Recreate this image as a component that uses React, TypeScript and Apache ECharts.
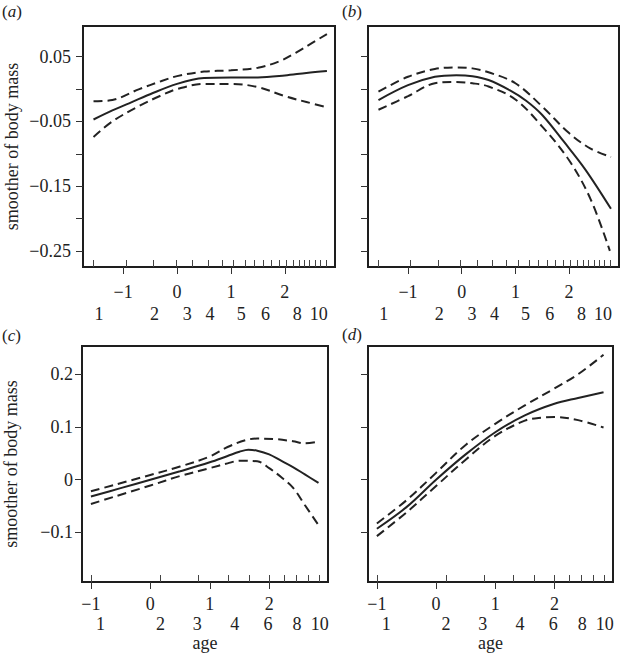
import React, { useEffect, useRef } from "react";
import * as echarts from "echarts";

// ---------- data ----------
const mainTicks = [-1, 0, 1, 2];

const topAgeLabels = ["1", "2", "3", "4", "5", "6", "8", "10"];
const topAgePos = [-1.45, -0.42, 0.19, 0.61, 1.19, 1.64, 2.23, 2.63];
const bottomAgeLabels = ["1", "2", "3", "4", "6", "8", "10"];
const bottomAgePos = [-0.84, 0.17, 0.79, 1.42, 1.98, 2.47, 2.85];

const topRug = [-1.55, -0.95, -0.44, -0.02, 0.29, 0.57, 0.83, 1.05, 1.26, 1.43, 1.59, 1.75, 1.9, 2.03, 2.15, 2.26, 2.36, 2.46, 2.56, 2.66, 2.76];
const bottomRug = [-0.99, 0.17, 0.81, 1.31, 1.66, 2.0, 2.25, 2.45, 2.65, 2.84];

const topYTicks = [0.05, 0, -0.05, -0.1, -0.15, -0.2, -0.25];
const topYLabels = [0.05, -0.05, -0.15, -0.25];
const bottomYTicks = [0.2, 0.1, 0, -0.1];
const bottomYLabels = [0.2, 0.1, 0, -0.1];

// panel (a)
const aFit = [[-1.55, -0.047], [-1.2, -0.033], [-0.95, -0.024], [-0.5, -0.008], [0, 0.008], [0.5, 0.017], [1.0, 0.018], [1.5, 0.018], [2.0, 0.021], [2.4, 0.025], [2.78, 0.028]];
const aUpper = [[-1.55, -0.019], [-1.2, -0.017], [-0.7, 0.0], [-0.3, 0.012], [0, 0.02], [0.5, 0.027], [1.0, 0.029], [1.5, 0.033], [1.9, 0.043], [2.2, 0.056], [2.5, 0.071], [2.78, 0.085]];
const aLower = [[-1.55, -0.074], [-1.2, -0.05], [-0.7, -0.026], [-0.3, -0.01], [0, 0.0], [0.5, 0.008], [1.0, 0.008], [1.5, 0.003], [2.0, -0.011], [2.4, -0.02], [2.78, -0.028]];

// panel (b)
const bFit = [[-1.55, -0.017], [-1.0, 0.006], [-0.5, 0.019], [-0.1, 0.0215], [0.2, 0.02], [0.5, 0.014], [0.9, -0.002], [1.2, -0.018], [1.5, -0.04], [1.9, -0.081], [2.3, -0.124], [2.78, -0.185]];
const bUpper = [[-1.55, -0.004], [-1.0, 0.019], [-0.5, 0.031], [-0.1, 0.0335], [0.2, 0.032], [0.5, 0.026], [1.0, 0.009], [1.5, -0.027], [2.0, -0.068], [2.4, -0.092], [2.78, -0.105]];
const bLower = [[-1.55, -0.032], [-1.0, -0.011], [-0.5, 0.009], [-0.1, 0.011], [0.2, 0.009], [0.5, 0.004], [1.0, -0.016], [1.5, -0.058], [2.0, -0.11], [2.4, -0.17], [2.76, -0.25]];

// panel (c)
const cFit = [[-1.0, -0.032], [-0.5, -0.016], [0, 0.0], [0.5, 0.016], [1.0, 0.033], [1.3, 0.045], [1.5, 0.053], [1.65, 0.057], [1.8, 0.055], [2.0, 0.048], [2.2, 0.036], [2.4, 0.024], [2.6, 0.01], [2.83, -0.006]];
const cUpper = [[-1.0, -0.022], [0, 0.009], [0.5, 0.025], [1.0, 0.044], [1.3, 0.062], [1.6, 0.075], [1.8, 0.078], [2.1, 0.077], [2.4, 0.073], [2.6, 0.069], [2.83, 0.072]];
const cLower = [[-1.0, -0.046], [0, -0.011], [0.5, 0.007], [1.0, 0.022], [1.3, 0.031], [1.5, 0.036], [1.8, 0.035], [2.0, 0.022], [2.2, 0.005], [2.4, -0.015], [2.6, -0.048], [2.83, -0.086]];

// panel (d)
const dFit = [[-1.0, -0.093], [-0.5, -0.052], [0, 0.0], [0.5, 0.048], [1.0, 0.09], [1.5, 0.122], [2.0, 0.144], [2.4, 0.155], [2.83, 0.166]];
const dUpper = [[-1.0, -0.083], [-0.5, -0.039], [0, 0.013], [0.5, 0.066], [1.0, 0.106], [1.5, 0.141], [2.0, 0.173], [2.4, 0.2], [2.83, 0.237]];
const dLower = [[-1.0, -0.107], [-0.5, -0.062], [0, -0.012], [0.5, 0.038], [1.0, 0.083], [1.5, 0.112], [1.8, 0.118], [2.0, 0.119], [2.4, 0.113], [2.83, 0.099]];

const panelLetters = ["a", "b", "c", "d"];

// ---------- styles ----------
const FONT = "Liberation Serif";
const INK = "#222";
const FS = 18;

type Panel = {
  rect: { left: number; top: number; width: number; height: number };
  xRange: [number, number];
  yRange: [number, number];
  yTicks: number[];
  yLabels: number[] | null;
  yLabelMargin: number;
  rug: number[];
  ageLabels: string[];
  agePos: number[];
  row1Margin: number;
  row2Margin: number;
  showYName: boolean;
  showXName: boolean;
  curves: { fit: number[][]; upper: number[][]; lower: number[][] };
  letterPos: { left: number; top: number };
};

const fmt = (v: number) => {
  const r = Math.round(v * 1000) / 1000;
  return String(r).replace("-", "\u2212");
};

const TOP_X: [number, number] = [-1.745, 2.93];
const TOP_Y: [number, number] = [-0.275, 0.0975];
const BOT_X: [number, number] = [-1.15, 2.99];
const BOT_Y: [number, number] = [-0.194, 0.2536];

const panels: Panel[] = [
  {
    rect: { left: 83, top: 26, width: 252, height: 241 },
    xRange: TOP_X, yRange: TOP_Y, yTicks: topYTicks, yLabels: topYLabels, yLabelMargin: 12,
    rug: topRug, ageLabels: topAgeLabels, agePos: topAgePos, row1Margin: 16, row2Margin: 38,
    showYName: true, showXName: false,
    curves: { fit: aFit, upper: aUpper, lower: aLower },
    letterPos: { left: 2, top: 3 },
  },
  {
    rect: { left: 368, top: 26, width: 251, height: 241 },
    xRange: TOP_X, yRange: TOP_Y, yTicks: topYTicks, yLabels: null, yLabelMargin: 12,
    rug: topRug, ageLabels: topAgeLabels, agePos: topAgePos, row1Margin: 16, row2Margin: 38,
    showYName: false, showXName: false,
    curves: { fit: bFit, upper: bUpper, lower: bLower },
    letterPos: { left: 342, top: 3 },
  },
  {
    rect: { left: 82, top: 346, width: 246, height: 236 },
    xRange: BOT_X, yRange: BOT_Y, yTicks: bottomYTicks, yLabels: bottomYLabels, yLabelMargin: 9,
    rug: bottomRug, ageLabels: bottomAgeLabels, agePos: bottomAgePos, row1Margin: 13, row2Margin: 33,
    showYName: true, showXName: true,
    curves: { fit: cFit, upper: cUpper, lower: cLower },
    letterPos: { left: 2, top: 327 },
  },
  {
    rect: { left: 368, top: 346, width: 245, height: 236 },
    xRange: BOT_X, yRange: BOT_Y, yTicks: bottomYTicks, yLabels: null, yLabelMargin: 9,
    rug: bottomRug, ageLabels: bottomAgeLabels, agePos: bottomAgePos, row1Margin: 13, row2Margin: 33,
    showYName: false, showXName: true,
    curves: { fit: dFit, upper: dUpper, lower: dLower },
    letterPos: { left: 342, top: 326 },
  },
];

function buildOption() {
  const grid: any[] = [];
  const xAxis: any[] = [];
  const yAxis: any[] = [];
  const series: any[] = [];
  const title: any[] = [];

  const textBase = { fontFamily: FONT, fontSize: FS, color: INK, fontWeight: "normal" };

  panels.forEach((p, i) => {
    grid.push({
      ...p.rect,
      show: true,
      borderColor: "#1e1e1e",
      borderWidth: 2,
      backgroundColor: "transparent",
      containLabel: false,
    });

    // main axis: -1..2 ticks and labels
    xAxis.push({
      gridIndex: i,
      type: "value",
      min: p.xRange[0],
      max: p.xRange[1],
      position: "bottom",
      axisLine: { show: false, onZero: false },
      splitLine: { show: false },
      axisTick: { show: true, length: 7, customValues: mainTicks, lineStyle: { color: "#333", width: 1 } },
      axisLabel: { customValues: mainTicks, margin: p.row1Margin, formatter: fmt, ...textBase },
      name: p.showXName ? "age" : "",
      nameLocation: "middle",
      nameGap: 52,
      nameTextStyle: { ...textBase },
    });
    // rug ticks inside
    xAxis.push({
      gridIndex: i,
      type: "value",
      min: p.xRange[0],
      max: p.xRange[1],
      position: "bottom",
      axisLine: { show: false, onZero: false },
      splitLine: { show: false },
      axisTick: { show: true, inside: true, length: 7, customValues: p.rug, lineStyle: { color: "#444", width: 1 } },
      axisLabel: { show: false },
    });
    // age labels row
    const ages = p.ageLabels;
    const pos = p.agePos;
    xAxis.push({
      gridIndex: i,
      type: "value",
      min: p.xRange[0],
      max: p.xRange[1],
      position: "bottom",
      axisLine: { show: false, onZero: false },
      splitLine: { show: false },
      axisTick: { show: false },
      axisLabel: {
        customValues: pos,
        margin: p.row2Margin,
        formatter: (v: number) => {
          let best = 0;
          pos.forEach((q, k) => {
            if (Math.abs(q - v) < Math.abs(pos[best] - v)) best = k;
          });
          return ages[best];
        },
        ...textBase,
      },
    });

    yAxis.push({
      gridIndex: i,
      type: "value",
      min: p.yRange[0],
      max: p.yRange[1],
      position: "left",
      axisLine: { show: false, onZero: false },
      splitLine: { show: false },
      axisTick: { show: true, length: 7, customValues: p.yTicks, lineStyle: { color: "#333", width: 1 } },
      axisLabel: p.yLabels
        ? { show: true, customValues: p.yLabels, margin: p.yLabelMargin, formatter: fmt, ...textBase }
        : { show: false },
      name: p.showYName ? "smoother of body mass" : "",
      nameLocation: "middle",
      nameRotate: 90,
      nameGap: 62,
      nameTextStyle: { ...textBase },
    });

    const mk = (data: number[][], dashed: boolean) => ({
      type: "line",
      xAxisIndex: i * 3,
      yAxisIndex: i,
      data,
      showSymbol: false,
      smooth: 0.35,
      silent: true,
      lineStyle: {
        color: INK,
        width: 2,
        type: dashed ? [9, 5] : "solid",
      },
    });
    series.push(mk(p.curves.upper, true));
    series.push(mk(p.curves.lower, true));
    series.push(mk(p.curves.fit, false));

    title.push({
      text: `{p|(}{i|${panelLetters[i]}}{p|)}`,
      left: p.letterPos.left,
      top: p.letterPos.top,
      padding: 0,
      textStyle: {
        fontWeight: "normal",
        rich: {
          p: { fontFamily: FONT, fontSize: 17, fontWeight: "normal", color: INK },
          i: { fontFamily: FONT, fontSize: 17, fontWeight: "normal", fontStyle: "italic", color: INK },
        },
      },
    });
  });

  return {
    animation: false,
    backgroundColor: "#ffffff",
    title,
    grid,
    xAxis,
    yAxis,
    series,
  };
}

export default function App() {
  const ref = useRef<HTMLDivElement>(null);
  useEffect(() => {
    if (!ref.current) return;
    const chart = echarts.init(ref.current, undefined, { renderer: "svg" });
    chart.setOption(buildOption() as any);
    return () => chart.dispose();
  }, []);
  return (
    <div
      ref={ref}
      style={{ position: "fixed", left: 0, top: 0, width: 621, height: 654, background: "#fff" }}
    />
  );
}
